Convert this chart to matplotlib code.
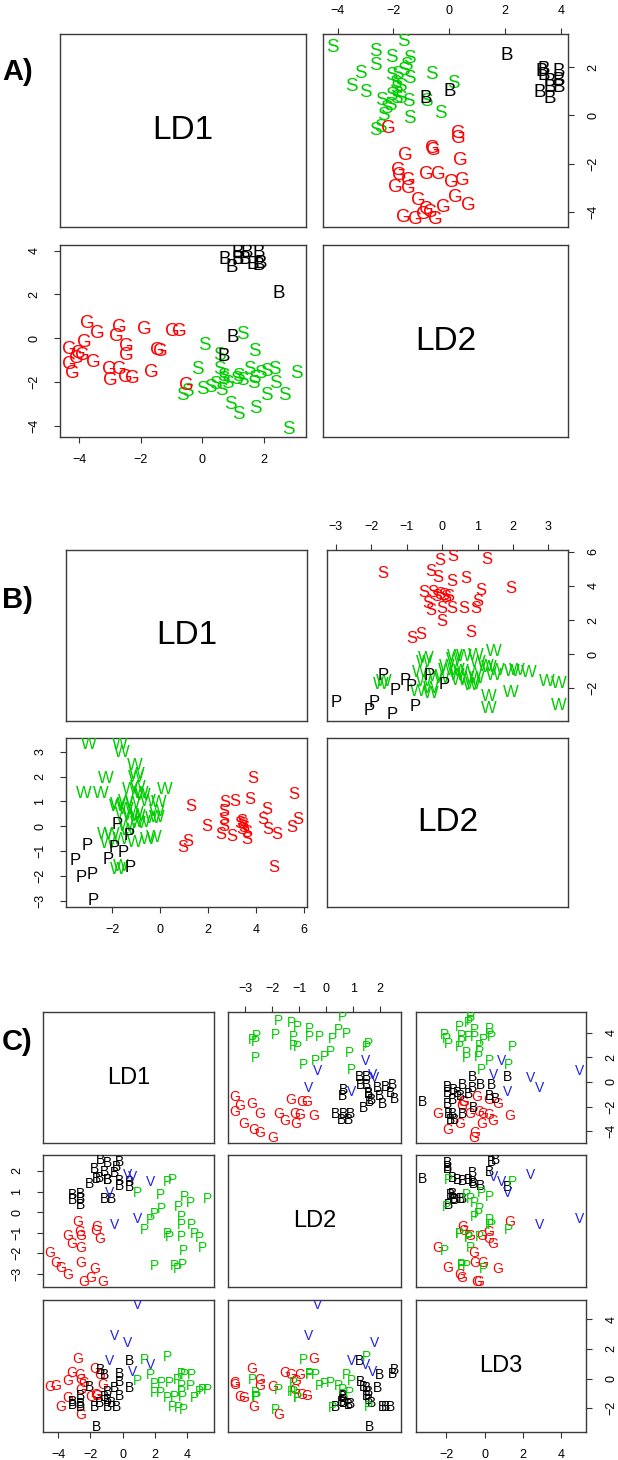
import matplotlib.pyplot as plt

plt.rcParams['font.family'] = ['Liberation Sans', 'DejaVu Sans']

W, H = 618, 1460

# ---------------- A) ----------------
a_names = ['LD1', 'LD2']
a_ticks = [[-4, -2, 0, 2], [-4, -2, 0, 2, 4]]

a_s_ld1 = [2.8, 3.08, 2.67, 2.39, 2.08, 2.36, 2.08, 1.88, 1.74, 1.67, 1.69, 1.53, 1.69, 1.18, 0.93, 1.11,
           1.18, 0.83, 0.69, 0.63, 0.42, 0.56, 1.32, 0.56, 0.07, -0.14, 0.0, -0.63, -0.49, 1.32, 0.28, 0.69]
a_s_ld2 = [-4.2, -1.64, -2.64, -2.07, -2.64, -1.43, -1.52, -1.64, -3.2, -2.06, -1.86, -1.43, -0.63, -3.49, -3.02, -1.9,
           -1.76, -2.06, -1.76, -2.42, -2.12, -1.46, 0.14, -0.81, -0.33, -1.43, -2.36, -2.64, -2.45, -1.94, -2.24, -1.88]

a_b_ld1 = [2.5, 1.83, 1.83, 1.64, 1.39, 1.46, 1.14, 1.14, 0.97, 0.72, 0.69, 1.0, 1.9]
a_b_ld2 = [2.05, 3.33, 3.93, 3.38, 3.6, 3.93, 3.93, 3.6, 3.24, 3.6, -0.83, 0.02, 3.4]

a_g_ld1 = [-0.53, -0.76, -0.97, -1.36, -1.46, -1.67, -1.88, -2.29, -2.5, -2.47, -2.47, -2.71, -2.99,
           -3.03, -2.78, -2.71, -3.4, -3.75, -3.54, -3.82, -3.89, -4.1, -4.24, -4.33, -4.33, -4.03]
a_g_ld2 = [-2.18, 0.32, 0.32, -0.6, -0.57, -1.58, 0.38, -1.83, -1.8, -0.81, -0.39, -1.46, -1.94,
           -1.46, 0.08, 0.48, 0.2, 0.68, -1.1, -0.21, -0.81, -0.93, -1.64, -1.23, -0.51, -0.69]

# ---------------- B) ----------------
b_names = ['LD1', 'LD2']
b_ticks = [[-2, 0, 2, 4, 6], [-3, -2, -1, 0, 1, 2, 3]]

b_s_ld1 = [3.87, 5.58, 1.27, 2.68, 3.1, 3.73, 4.42, 5.74, 5.47, 2.66, 1.92, 2.66, 4.26, 3.38, 3.42,
           3.48, 3.38, 3.3, 2.54, 2.96, 3.59, 4.49, 4.84, 1.15, 0.92, 4.74, 2.66, 3.59]
b_s_ld2 = [1.93, 1.27, 0.8, 0.96, 1.0, 1.09, 0.67, 0.29, -0.07, 0.6, 0.0, 0.27, 0.27, 0.2, 0.05,
           -0.07, -0.15, 0.1, -0.33, -0.4, -0.53, -0.13, -0.33, -0.6, -0.87, -1.67, 0.0, -0.27]

b_p_ld1 = [-1.79, -1.28, -3.05, -1.91, -1.52, -2.16, -3.55, -2.85, -3.3, -1.24, -2.81]
b_p_ld2 = [0.07, -0.37, -0.77, -0.87, -1.04, -1.33, -1.4, -1.93, -2.07, -1.67, -3.0]

b_w_ld1 = [-2.99, -1.7, -1.6, -1.07, -0.96, -1.03, -2.25, -3.16, -2.46, -1.28, -0.79, 0.18, -0.94, -0.74,
           -1.77, -1.42, -1.14, -0.51, -0.06, -1.56, -0.93, -0.31, -0.16, -0.72, -1.03, -0.94, -1.42,
           -2.32, -0.51, -1.07, -1.77, -1.62, -2.2, -2.0, -1.33, -0.25, -1.62, -0.16, -1.81, -1.42, -1.23]
b_w_ld2 = [3.3, 3.3, 2.95, 2.45, 2.1, 1.97, 1.93, 1.33, 1.33, 1.47, 1.33, 1.47, 1.55, 1.22,
           0.87, 0.67, 0.93, 1.0, 0.94, 0.47, 0.4, 0.33, 0.61, 0.13, 0.52, 0.09, 0.0,
           -0.33, -0.53, -0.64, -1.73, -1.64, -0.7, -0.33, -0.19, -0.47, -0.52, 0.37, 0.8, 0.98, 0.42]

# ---------------- C) ----------------
c_names = ['LD1', 'LD2', 'LD3']
c_ticks = [[-4, -2, 0, 2, 4], [-3, -2, -1, 0, 1, 2], [-2, 0, 2, 4]]

c_g_ld1 = [-4.55, -4.13, -3.86, -3.41, -3.41, -3.16, -2.79, -2.69, -2.62, -2.58, -2.58, -2.42,
           -1.96, -1.76, -1.65, -1.59, -1.45, -1.24]
c_g_ld2 = [-1.97, -2.46, -2.7, -1.15, -3.08, -1.56, -0.46, -0.98, -1.77, -1.18, -2.46, -3.41,
           -3.2, -2.75, -0.9, -0.74, -1.31, -3.41]
c_g_ld3 = [-0.57, -0.53, -1.94, -0.18, -1.32, 0.39, 1.3, 0.21, -2.47, -0.8, -0.11, -0.3,
           -1.21, 0.66, -1.1, -1.16, 0.21, -0.41]

c_b_ld1 = [-3.1, -3.1, -2.62, -2.62, -2.62, -2.07, -1.76, -1.45, -1.38, -1.14, -1.14, -0.97,
           -0.93, -0.93, -0.68, -0.52, -0.41, -0.21, -0.21, -0.21, 0.41, 0.41, -1.65]
c_b_ld2 = [0.82, 0.57, 0.9, 0.66, 0.36, 1.39, 2.1, 1.67, 2.54, 1.97, 0.62, 1.56,
           2.38, 1.56, 0.66, 1.89, 2.21, 2.46, 1.51, 1.28, 1.48, 1.23, 1.59]
c_b_ld3 = [-1.78, -1.6, -1.71, -1.16, -1.9, -0.57, -1.94, -1.67, 0.57, 0.27, -1.26, -0.87,
           -1.94, -1.44, -1.62, -0.64, -1.94, 0.34, -1.16, -0.25, -0.64, 1.19, -3.26]

c_p_ld1 = [0.93, 1.38, 1.71, 1.96, 2.0, 2.33, 2.42, 2.79, 2.79, 2.89, 3.1, 3.2, 3.41, 3.45,
           3.62, 3.62, 3.66, 3.72, 3.78, 3.86, 4.19, 4.28, 4.44, 4.75, 4.92, 5.27]
c_p_ld2 = [0.95, -0.85, -0.41, -2.62, -0.08, 0.85, 0.16, 1.48, -1.07, -1.23, 1.56, -2.62, -2.75, 0.25,
           -0.25, -0.62, -1.23, -2.59, -1.89, 0.74, 0.46, -0.62, -1.07, -1.28, -1.77, 0.62]
c_p_ld3 = [-0.18, 1.26, 0.27, -0.98, -0.34, -0.94, -0.3, 1.42, -1.32, -0.3, -1.9, -1.21, -0.07, -2.0,
           -0.53, 0.34, -0.87, -1.21, -2.12, 0.27, -0.53, 0.27, -1.32, -0.87, -0.75, -0.75]

c_v_ld1 = [0.9, -0.48, 0.3, -0.83, 1.71, 0.6]
c_v_ld2 = [-0.33, -0.65, 1.8, 0.95, 1.45, 1.72]
c_v_ld3 = [4.95, 2.85, 2.4, 1.19, 0.9, 0.45]

GREEN = '#00CD00'
RED = '#FF0000'
BLACK = '#000000'
BLUE = '#2020E8'


def rlim(vals):
    lo, hi = min(vals), max(vals)
    pad = (hi - lo) * 0.04
    return lo - pad, hi + pad


def pairs(fig, xs, ys, names, ticks, groups, fs_letter, fs_name):
    n = len(names)
    lims = [rlim([v for g in groups for v in g[2][k]]) for k in range(n)]
    for i in range(n):
        for j in range(n):
            x0, x1 = xs[j]
            y0, y1 = ys[i]
            ax = fig.add_axes([x0 / W, 1 - y1 / H, (x1 - x0) / W, (y1 - y0) / H])
            ax.set_xlim(lims[j])
            ax.set_ylim(lims[i])
            for s in ax.spines.values():
                s.set_color('#3a3a3a')
                s.set_linewidth(1.0)
            if i == j:
                ax.text(0.5, 0.5, names[i], transform=ax.transAxes, ha='center', va='center',
                        fontsize=fs_name)
            else:
                for letter, col, vals in groups:
                    for xv, yv in zip(vals[j], vals[i]):
                        ax.text(xv, yv, letter, color=col, ha='center', va='center',
                                fontsize=fs_letter, clip_on=True)
            bottom = i == n - 1 and j % 2 == 0
            top = i == 0 and j % 2 == 1
            left = j == 0 and i % 2 == 1
            right = j == n - 1 and i % 2 == 0
            ax.tick_params(axis='x', bottom=bottom, labelbottom=bottom, top=top, labeltop=top,
                           direction='out', length=4, width=0.8, pad=8, labelsize=9, color='#333333')
            ax.tick_params(axis='y', left=left, labelleft=left, right=right, labelright=right,
                           direction='out', length=4, width=0.8, pad=10, labelsize=9, color='#333333')
            ax.set_xticks(ticks[j] if (bottom or top) else [])
            ax.set_yticks(ticks[i] if (left or right) else [])
            for lab in ax.get_yticklabels():
                lab.set_rotation(90)
                lab.set_va('center')


fig = plt.figure(figsize=(W / 100, H / 100), dpi=100)

a_groups = [('S', GREEN, [a_s_ld1, a_s_ld2]),
            ('B', BLACK, [a_b_ld1, a_b_ld2]),
            ('G', RED, [a_g_ld1, a_g_ld2])]
pairs(fig, [(60, 306), (323, 568)], [(34, 227), (245, 437)], a_names, a_ticks, a_groups, 13.5, 24)

b_groups = [('W', GREEN, [b_w_ld1, b_w_ld2]),
            ('P', BLACK, [b_p_ld1, b_p_ld2]),
            ('S', RED, [b_s_ld1, b_s_ld2])]
pairs(fig, [(66, 307), (327, 568)], [(550, 721), (738, 907)], b_names, b_ticks, b_groups, 12, 24)

c_groups = [('G', RED, [c_g_ld1, c_g_ld2, c_g_ld3]),
            ('B', BLACK, [c_b_ld1, c_b_ld2, c_b_ld3]),
            ('P', GREEN, [c_p_ld1, c_p_ld2, c_p_ld3]),
            ('V', BLUE, [c_v_ld1, c_v_ld2, c_v_ld3])]
pairs(fig, [(43, 214), (228, 401), (416, 586)], [(1012, 1143), (1155, 1287), (1300, 1432)],
      c_names, c_ticks, c_groups, 10, 17)

for lab, yp in [('A)', 72), ('B)', 600), ('C)', 1042)]:
    fig.text(2 / W, 1 - yp / H, lab, fontsize=21, fontweight='bold', ha='left', va='center')

fig.savefig('out.png', dpi=100)
